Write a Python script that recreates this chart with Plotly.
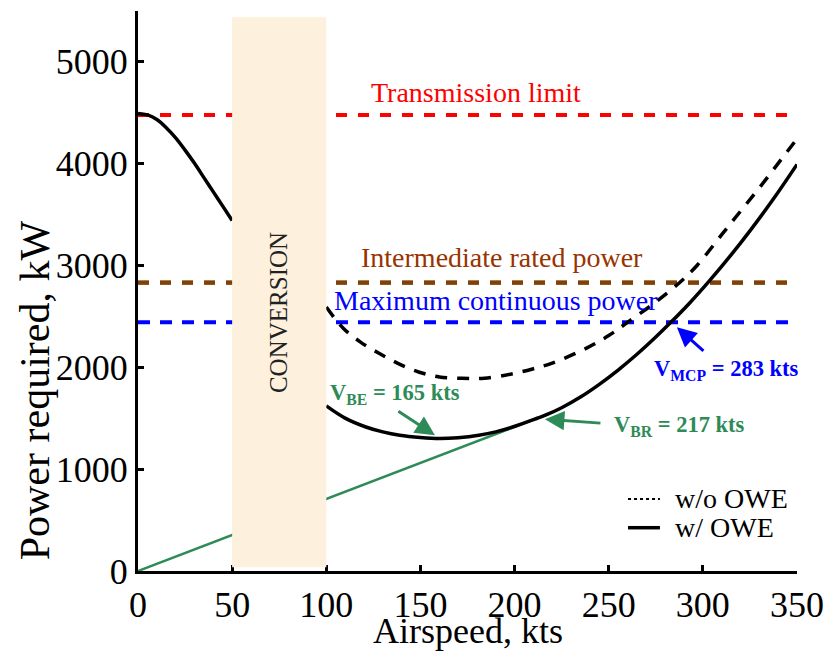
import plotly.graph_objects as go

# Hover / helicopter-mode power (before conversion)
speed_heli = [0, 5, 10, 15, 20, 25, 30, 35, 40, 45, 50]
power_heli = [4490, 4475, 4430, 4350, 4250, 4130, 4000, 3860, 3720, 3580, 3440]

# Airplane-mode power, with OWE
speed_owe = [100, 110, 121, 130, 139, 150, 160, 170, 181, 190, 199, 212, 217, 225,
             235, 245, 255, 265, 275, 283, 293, 303, 315, 325, 338, 350]
power_owe = [1620, 1500, 1413, 1365, 1332, 1310, 1300, 1308, 1332, 1365, 1413, 1499, 1534, 1602,
             1707, 1832, 1972, 2127, 2296, 2440, 2630, 2837, 3102, 3338, 3665, 3990]

# Airplane-mode power, without OWE
speed_noowe = [100, 109, 118, 128, 138, 149, 160, 172, 184, 199, 210, 220, 238, 250,
               260, 275, 288, 297, 310, 320, 330, 340, 350]
power_noowe = [2590, 2382, 2248, 2136, 2038, 1953, 1904, 1891, 1891, 1935, 1985, 2040, 2185, 2310,
               2440, 2640, 2836, 3000, 3300, 3530, 3760, 4000, 4240]

# Power limits
limit_transmission = 4475
limit_irp = 2830
limit_mcp = 2440

# Characteristic speeds
v_br = 217
p_br = 1534
v_be = 165
v_mcp = 283

legend_labels = ["w/o OWE", "w/ OWE"]

FONT = "Liberation Serif"
GREEN = "#2E8B57"
BROWN = "#8B3A0C"

fig = go.Figure()

# Horizontal limit lines
fig.add_trace(go.Scatter(x=[0, 350], y=[limit_transmission] * 2, mode="lines",
                         line=dict(color="#FF0000", width=4, dash="11px,11px"), showlegend=False))
fig.add_trace(go.Scatter(x=[0, 350], y=[limit_irp] * 2, mode="lines",
                         line=dict(color="#7A8A2A", width=4.6, dash="11px,11px"), showlegend=False))
fig.add_trace(go.Scatter(x=[0, 350], y=[limit_irp] * 2, mode="lines",
                         line=dict(color=BROWN, width=3.6, dash="11px,11px"), showlegend=False))
fig.add_trace(go.Scatter(x=[0, 350], y=[limit_mcp] * 2, mode="lines",
                         line=dict(color="#0000FF", width=4, dash="12px,10px"), showlegend=False))

# Tangent line from origin (best range)
fig.add_trace(go.Scatter(x=[0, v_br], y=[0, p_br], mode="lines",
                         line=dict(color=GREEN, width=2.5), showlegend=False))

# Power curves
fig.add_trace(go.Scatter(x=speed_heli, y=power_heli, mode="lines",
                         line=dict(color="black", width=3.5, shape="spline"), showlegend=False))
fig.add_trace(go.Scatter(x=speed_noowe, y=power_noowe, mode="lines", name=legend_labels[0],
                         line=dict(color="black", width=3.5, dash="12px,10px", shape="spline"),
                         showlegend=False))
fig.add_trace(go.Scatter(x=speed_owe, y=power_owe, mode="lines", name=legend_labels[1],
                         line=dict(color="black", width=3.5, shape="spline"), showlegend=False))

# Conversion corridor
fig.add_shape(type="rect", x0=50, x1=100, y0=36, y1=5434, xref="x", yref="y",
              fillcolor="#FDF0DC", line=dict(width=0), layer="above")

# Key (bottom right)
key_rows = [0.1286, 0.0773]
fig.add_shape(type="line", xref="paper", yref="paper", x0=0.7436, x1=0.792,
              y0=key_rows[0], y1=key_rows[0], line=dict(color="black", width=2, dash="dot"))
fig.add_shape(type="line", xref="paper", yref="paper", x0=0.7436, x1=0.792,
              y0=key_rows[1], y1=key_rows[1], line=dict(color="black", width=3.5))

ann = [
    dict(x=-0.156, y=0.323, xref="paper", yref="paper", xanchor="center", yanchor="middle",
         text="Power required, kW", textangle=-90,
         showarrow=False, font=dict(family=FONT, size=42, color="black")),
    dict(x=0.5, y=-0.107, xref="paper", yref="paper", xanchor="center", yanchor="middle",
         text="Airspeed, kts", showarrow=False, font=dict(family=FONT, size=36, color="black")),
    dict(x=74.3, y=2540, text="CONVERSION", textangle=-90, showarrow=False,
         font=dict(family=FONT, size=25, color="#222222")),
    dict(x=179.5, y=4698, text="Transmission limit", showarrow=False,
         font=dict(family=FONT, size=28, color="#FF0000")),
    dict(x=193.3, y=3078, text="Intermediate rated power", showarrow=False,
         font=dict(family=FONT, size=28, color="#993300")),
    dict(x=190.1, y=2657, text="Maximum continuous power", showarrow=False,
         font=dict(family=FONT, size=28, color="#0000FF")),
    dict(x=100.9, y=1740, xanchor="left", text=f"<b>V<sub>BE</sub> = {v_be} kts</b>", showarrow=False,
         font=dict(family=FONT, size=22.5, color=GREEN)),
    dict(x=251.7, y=1420, xanchor="left", text=f"<b>V<sub>BR</sub> = {v_br} kts</b>", showarrow=False,
         font=dict(family=FONT, size=22.5, color=GREEN)),
    dict(x=273.0, y=1975, xanchor="left", text=f"<b>V<sub>MCP</sub> = {v_mcp} kts</b>", showarrow=False,
         font=dict(family=FONT, size=22.5, color="#0000FF")),
    # Arrows
    dict(x=157.7, y=1332, ax=137.5, ay=1577, axref="x", ayref="y", text="", showarrow=True,
         arrowhead=2, arrowsize=1.3, arrowwidth=3, arrowcolor=GREEN),
    dict(x=216.1, y=1489, ax=246.4, ay=1450, axref="x", ayref="y", text="", showarrow=True,
         arrowhead=2, arrowsize=1.3, arrowwidth=3, arrowcolor=GREEN),
    dict(x=286.2, y=2392, ax=301.1, ay=2147, axref="x", ayref="y", text="", showarrow=True,
         arrowhead=2, arrowsize=1.3, arrowwidth=3, arrowcolor="#0000FF"),
]
for label, row in zip(legend_labels, key_rows):
    ann.append(dict(x=0.812, y=row, xref="paper", yref="paper", xanchor="left", yanchor="middle",
                    text=label, showarrow=False, font=dict(family=FONT, size=28, color="black")))
fig.update_layout(annotations=ann)

axis_common = dict(showline=True, linecolor="black", linewidth=3, ticks="inside", ticklen=6,
                   tickwidth=3, tickcolor="black", showgrid=False, zeroline=False, automargin=False,
                   tickfont=dict(family=FONT, size=36, color="black"))

fig.update_xaxes(range=[0, 350], tickvals=[0, 50, 100, 150, 200, 250, 300, 350], **axis_common)
fig.update_yaxes(range=[0, 5495], tickvals=[0, 1000, 2000, 3000, 4000, 5000], **axis_common)

fig.update_layout(
    width=826, height=652,
    margin=dict(l=138, r=29, t=11, b=81),
    plot_bgcolor="white", paper_bgcolor="white",
    showlegend=False,
)

fig.write_html("out.html")
